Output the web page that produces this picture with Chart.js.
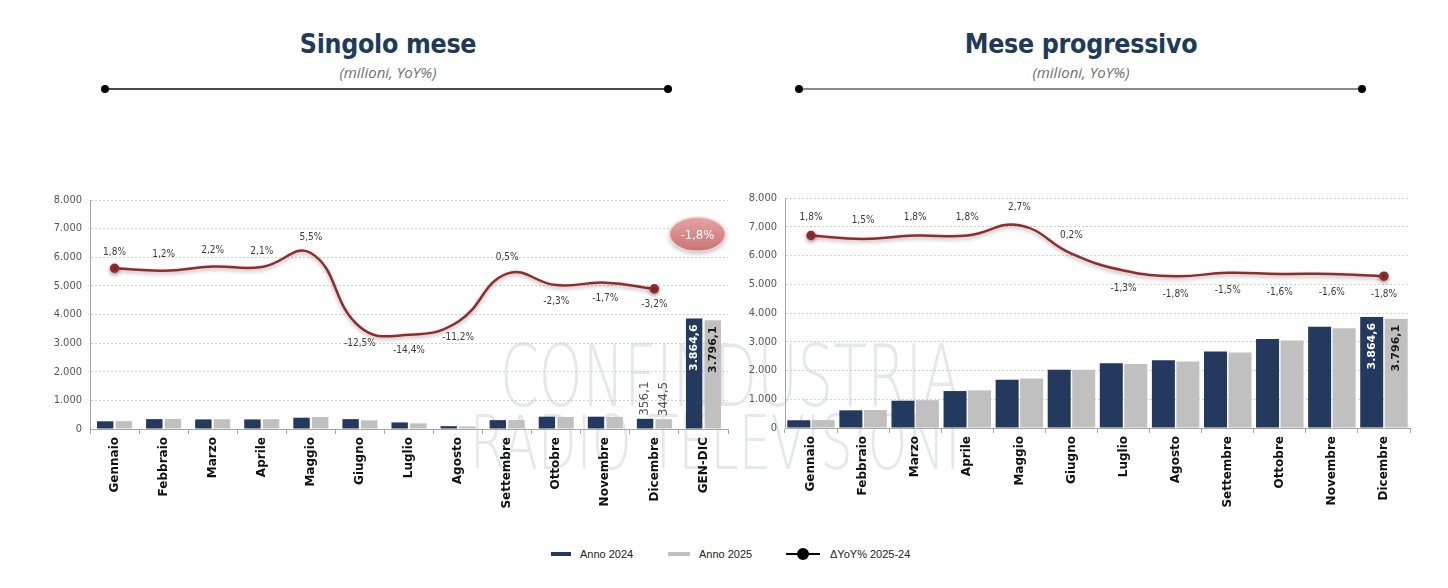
<!DOCTYPE html>
<html><head><meta charset="utf-8">
<script src="https://cdn.jsdelivr.net/npm/chart.js@4"></script>
<style>
body{margin:0;width:1448px;height:588px;background:#fff;position:relative;overflow:hidden;font-family:'DejaVu Sans',sans-serif}
.box{position:absolute}
.title{position:absolute;width:500px;text-align:center;font-family:'DejaVu Sans Condensed','DejaVu Sans',sans-serif;font-weight:bold;font-size:26.5px;color:#1f3b5c;letter-spacing:-0.3px}
.sub{position:absolute;width:500px;text-align:center;font-style:italic;font-size:15px;color:#707070;font-family:'Open Sans','DejaVu Sans Condensed',sans-serif}
.rule{position:absolute;height:2px;background:#4a4a4a}
.rule:before,.rule:after{content:'';position:absolute;top:-3px;width:8px;height:8px;border-radius:50%;background:#000}
.rule:before{left:-4px}.rule:after{right:-4px}
.wm{position:absolute;color:#e4e7ee;font-family:'DejaVu Sans',sans-serif;font-weight:200;white-space:nowrap;transform-origin:0 0;z-index:0}
#legend{position:absolute;top:546px;left:0;width:1448px;font-family:'Liberation Sans',Arial,sans-serif;font-size:11px;color:#222}
.lg{position:absolute;top:0;line-height:16px}
.mk{position:absolute;top:6px;height:4px}
</style></head>
<body>
<div class="wm" id="wm1" style="left:500px;top:326px;font-size:86px">CONFINDUSTRIA</div>
<div class="wm" id="wm2" style="left:470px;top:400px;font-size:74px">RADIO TELEVISIONI</div>

<div class="title" style="left:138px;top:28px">Singolo mese</div>
<div class="sub" style="left:138px;top:62px">(milioni, YoY%)</div>
<div class="rule" style="left:105px;top:88px;width:563px"></div>
<div class="title" style="left:831px;top:28px">Mese progressivo</div>
<div class="sub" style="left:831px;top:62px">(milioni, YoY%)</div>
<div class="rule" style="left:799px;top:88px;width:563px;background:#8a8a8a"></div>

<div class="box" style="left:0;top:170px;width:740px;height:350px;z-index:1"><canvas id="c1"></canvas></div>
<div class="box" style="left:740px;top:170px;width:708px;height:350px;z-index:1"><canvas id="c2"></canvas></div>

<div id="legend">
  <div class="mk" style="left:551px;width:20px;background:#233a5e"></div><div class="lg" style="left:580px">Anno 2024</div>
  <div class="mk" style="left:668px;width:22px;background:#c0c0c0"></div><div class="lg" style="left:699px">Anno 2025</div>
  <div class="mk" style="left:786px;width:34px;height:2px;top:7px;background:#000"></div>
  <div style="position:absolute;left:797px;top:2px;width:12px;height:12px;border-radius:50%;background:#000"></div>
  <div class="lg" style="left:830px">ΔYoY% 2025-24</div>
</div>

<script>
// ---------- DATA ----------
const months = ['Gennaio','Febbraio','Marzo','Aprile','Maggio','Giugno','Luglio','Agosto','Settembre','Ottobre','Novembre','Dicembre'];
const singleCats = [...months, 'GEN-DIC'];
const single2024 = [270,345,335,335,395,345,230,100,310,430,430,356.1,3864.6];
const single2025 = [275,349,342,342,417,302,197,89,312,420,423,344.5,3796.1];
const singleYoY  = [1.8,1.2,2.2,2.1,5.5,-12.5,-14.4,-11.2,0.5,-2.3,-1.7,-3.2,null];
const progCats = months;
const prog2024 = [270,615,950,1285,1680,2025,2255,2355,2665,3095,3525,3864.6];
const prog2025 = [275,624,967,1308,1725,2029,2226,2313,2625,3045,3469,3796.1];
const progYoY  = [1.8,1.5,1.8,1.8,2.7,0.2,-1.3,-1.8,-1.5,-1.6,-1.6,-1.8];
const totalYoY = -1.8;
const yTicks = [0,1000,2000,3000,4000,5000,6000,7000,8000];

// ---------- helpers ----------
function fmtNum(v, dec){
  const neg = v < 0; v = Math.abs(v);
  let s = v.toFixed(dec);
  let [i, d] = s.split('.');
  i = i.replace(/\B(?=(\d{3})+(?!\d))/g, '.');
  return (neg?'-':'') + i + (d!==undefined ? ',' + d : '');
}
const NAVY = '#233a5e', GREY = '#c0c0c0', LINE = '#8c2e2e';

const lineFx = {
  id:'lineFx',
  beforeDatasetDraw(chart, args){
    if (chart.data.datasets[args.index].type === 'line'){
      const c = chart.ctx; c.save();
      c.shadowColor = 'rgba(60,0,0,0.35)'; c.shadowBlur = 4; c.shadowOffsetY = 2;
    }
  },
  afterDatasetDraw(chart, args){
    if (chart.data.datasets[args.index].type === 'line') chart.ctx.restore();
  }
};

const labelsPlugin = {
  id:'labelsPlugin',
  afterDatasetsDraw(chart, args, opts){
    const c = chart.ctx;
    const li = chart.data.datasets.findIndex(d => d.type === 'line');
    const lm = chart.getDatasetMeta(li);
    const ldata = chart.data.datasets[li].data;
    c.save();
    c.font = '10px "DejaVu Sans Condensed", "DejaVu Sans", sans-serif';
    c.fillStyle = '#3a3a3a'; c.textAlign = 'center'; c.textBaseline = 'middle';
    lm.data.forEach((pt, i) => {
      const v = ldata[i]; if (v === null || v === undefined) return;
      const y = v >= 0 ? pt.y - opts.up : pt.y + opts.down;
      c.fillText(fmtNum(v,1) + '%', pt.x, y);
    });
    c.restore();
    (opts.bars || []).forEach(b => {
      const meta = chart.getDatasetMeta(b.ds);
      const el = meta.data[b.i];
      const v = chart.data.datasets[b.ds].data[b.i];
      c.save();
      c.translate(el.x, b.inside ? el.y + 6 : el.y - 3);
      c.rotate(-Math.PI/2);
      c.font = b.bold ? 'bold 11px "DejaVu Sans", sans-serif' : '12px "DejaVu Sans", sans-serif';
      c.fillStyle = b.color; c.textBaseline = 'middle';
      c.textAlign = b.inside ? 'right' : 'left';
      c.fillText(fmtNum(v,1), 0, 0);
      c.restore();
    });
    if (opts.bubble){
      const xs = chart.scales.x, ys = chart.scales.y;
      const x = xs.getPixelForValue(singleCats.length - 1) - 6;
      const y = ys.getPixelForValue(6800);
      c.save();
      c.shadowColor = 'rgba(0,0,0,0.3)'; c.shadowBlur = 5; c.shadowOffsetY = 2;
      const g = c.createLinearGradient(0, y-17, 0, y+17);
      g.addColorStop(0, '#e4a3a3'); g.addColorStop(1, '#c97373');
      c.fillStyle = g;
      c.beginPath(); c.ellipse(x, y, 28, 17, 0, 0, Math.PI*2); c.fill();
      c.shadowColor = 'transparent';
      c.strokeStyle = '#f3d6d6'; c.lineWidth = 1.5; c.stroke();
      c.fillStyle = '#fff'; c.font = '13px "DejaVu Sans Condensed", "DejaVu Sans", sans-serif';
      c.textAlign = 'center'; c.textBaseline = 'middle';
      c.fillText(fmtNum(totalYoY,1) + '%', x, y + 1);
      c.restore();
    }
  }
};

function makeChart(id, cats, d24, d25, yoy, cfg){
  const last = yoy.reduce((a, v, i) => v !== null ? i : a, 0);
  return new Chart(document.getElementById(id), {
    data: {
      labels: cats,
      datasets: [
        {type:'bar', label:'Anno 2024', data:d24, backgroundColor:NAVY, order:2,
          categoryPercentage:cfg.cat, barPercentage:cfg.bar, yAxisID:'y'},
        {type:'bar', label:'Anno 2025', data:d25, backgroundColor:GREY, order:2,
          categoryPercentage:cfg.cat, barPercentage:cfg.bar, yAxisID:'y'},
        {type:'line', label:'ΔYoY% 2025-24', data:yoy, borderColor:LINE, borderWidth:2.5,
          tension:0.45, pointRadius: ctx => (ctx.dataIndex === 0 || ctx.dataIndex === last) ? 3.5 : 0,
          pointBackgroundColor:LINE, pointBorderColor:LINE, order:1, yAxisID:'y1', spanGaps:false}
      ]
    },
    options: {
      responsive:true, maintainAspectRatio:false, animation:false,
      layout:{padding:{top:cfg.top, right:cfg.right, left:0, bottom:0}},
      plugins:{legend:{display:false}, tooltip:{enabled:false},
        labelsPlugin:{up:cfg.up, down:cfg.down, bars:cfg.bars, bubble:cfg.bubble}},
      scales:{
        x:{
          offset:true,
          grid:{display:true, drawOnChartArea:false, offset:true, tickLength:5, color:'#a6a6a6'},
          border:{display:true, color:'#a6a6a6'},
          ticks:{minRotation:90, maxRotation:90, autoSkip:false, color:'#111',
            font:{family:'"DejaVu Sans", sans-serif', weight:'bold', size:12}, padding:3},
          afterFit: s => { s.height = cfg.xh; }
        },
        y:{
          min:0, max:8000,
          afterBuildTicks: s => { s.ticks = yTicks.map(v => ({value:v})); },
          grid:{color:'#cfcfcf', drawTicks:false},
          border:{display:true, color:'#a6a6a6', dash:[2,2]},
          ticks:{color:'#555', padding:8, font:{family:'"DejaVu Sans Condensed", "DejaVu Sans", sans-serif', size:11},
            callback: v => fmtNum(v,0)},
          afterFit: s => { s.width = cfg.yw; }
        },
        y1:{display:false, min:cfg.pmin, max:cfg.pmax}
      }
    },
    plugins:[lineFx, labelsPlugin]
  });
}

makeChart('c1', singleCats, single2024, single2025, singleYoY, {
  cat:0.76, bar:0.88, top:30, right:12, xh:91, yw:90, pmin:-37.3, pmax:18.4, up:16, down:16, bubble:true,
  bars:[
    {ds:0, i:11, inside:false, bold:false, color:'#555'},
    {ds:1, i:11, inside:false, bold:false, color:'#555'},
    {ds:0, i:12, inside:true, bold:true, color:'#fff'},
    {ds:1, i:12, inside:true, bold:true, color:'#1a1a1a'}
  ]
});
makeChart('c2', progCats, prog2024, prog2025, progYoY, {
  cat:0.94, bar:0.94, top:28, right:38, xh:92, yw:45, pmin:-15.24, pmax:5.12, up:18, down:18, bubble:false,
  bars:[
    {ds:0, i:11, inside:true, bold:true, color:'#fff'},
    {ds:1, i:11, inside:true, bold:true, color:'#1a1a1a'}
  ]
});

function fitW(id, w){ const e = document.getElementById(id); const r = w / e.offsetWidth; e.style.transform = 'scaleX(' + r + ')'; }
fitW('wm1', 460); fitW('wm2', 490);
</script>
</body></html>
